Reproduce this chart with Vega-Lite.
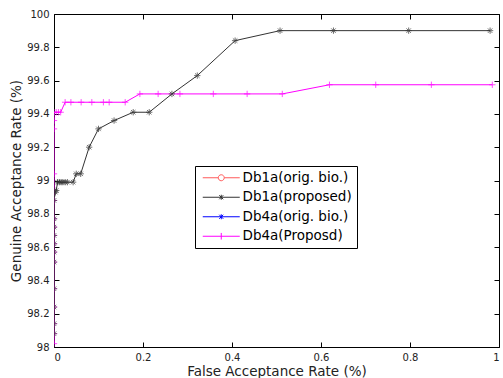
{
  "$schema": "https://vega.github.io/schema/vega-lite/v6.json",
  "autosize": "none",
  "width": 445,
  "height": 333,
  "padding": {"left": 54, "top": 14, "right": 4, "bottom": 31},
  "background": "white",
  "config": {
    "view": {"stroke": null},
    "font": "DejaVu Sans",
    "axis": {
      "domainColor": "black",
      "tickColor": "black",
      "labelColor": "#222",
      "labelFont": "DejaVu Sans",
      "labelFontSize": 10,
      "titleFont": "DejaVu Sans",
      "titleFontSize": 13.5,
      "titleFontWeight": "normal",
      "titleColor": "#222",
      "grid": false,
      "tickSize": -5
    }
  },
  "data": {
    "values": [
      {"s": "Db4a(Proposd)", "k": 1, "far": 0, "gar": 98.02},
      {"s": "Db4a(Proposd)", "k": 2, "far": 0, "gar": 98.08},
      {"s": "Db4a(Proposd)", "k": 3, "far": 0, "gar": 98.14},
      {"s": "Db4a(Proposd)", "k": 4, "far": 0, "gar": 98.24},
      {"s": "Db4a(Proposd)", "k": 5, "far": 0, "gar": 98.35},
      {"s": "Db4a(Proposd)", "k": 6, "far": 0, "gar": 98.51},
      {"s": "Db4a(Proposd)", "k": 7, "far": 0, "gar": 98.57},
      {"s": "Db4a(Proposd)", "k": 8, "far": 0, "gar": 98.62},
      {"s": "Db4a(Proposd)", "k": 9, "far": 0, "gar": 98.67},
      {"s": "Db4a(Proposd)", "k": 10, "far": 0, "gar": 98.72},
      {"s": "Db4a(Proposd)", "k": 11, "far": 0, "gar": 98.77},
      {"s": "Db4a(Proposd)", "k": 12, "far": 0, "gar": 98.88},
      {"s": "Db4a(Proposd)", "k": 13, "far": 0, "gar": 99.04},
      {"s": "Db4a(Proposd)", "k": 14, "far": 0, "gar": 99.31},
      {"s": "Db4a(Proposd)", "k": 15, "far": 0, "gar": 99.36},
      {"s": "Db4a(Proposd)", "k": 16, "far": 0, "gar": 99.41},
      {"s": "Db4a(Proposd)", "k": 17, "far": 0.005, "gar": 99.41},
      {"s": "Db4a(Proposd)", "k": 18, "far": 0.01, "gar": 99.41},
      {"s": "Db4a(Proposd)", "k": 19, "far": 0.015, "gar": 99.41},
      {"s": "Db4a(Proposd)", "k": 20, "far": 0.025, "gar": 99.47},
      {"s": "Db4a(Proposd)", "k": 21, "far": 0.038, "gar": 99.47},
      {"s": "Db4a(Proposd)", "k": 22, "far": 0.061, "gar": 99.47},
      {"s": "Db4a(Proposd)", "k": 23, "far": 0.085, "gar": 99.47},
      {"s": "Db4a(Proposd)", "k": 24, "far": 0.111, "gar": 99.47},
      {"s": "Db4a(Proposd)", "k": 25, "far": 0.124, "gar": 99.47},
      {"s": "Db4a(Proposd)", "k": 26, "far": 0.16, "gar": 99.47},
      {"s": "Db4a(Proposd)", "k": 27, "far": 0.193, "gar": 99.52},
      {"s": "Db4a(Proposd)", "k": 28, "far": 0.234, "gar": 99.52},
      {"s": "Db4a(Proposd)", "k": 29, "far": 0.283, "gar": 99.52},
      {"s": "Db4a(Proposd)", "k": 30, "far": 0.358, "gar": 99.52},
      {"s": "Db4a(Proposd)", "k": 31, "far": 0.434, "gar": 99.52},
      {"s": "Db4a(Proposd)", "k": 32, "far": 0.513, "gar": 99.52},
      {"s": "Db4a(Proposd)", "k": 33, "far": 0.619, "gar": 99.575},
      {"s": "Db4a(Proposd)", "k": 34, "far": 0.723, "gar": 99.575},
      {"s": "Db4a(Proposd)", "k": 35, "far": 0.848, "gar": 99.575},
      {"s": "Db4a(Proposd)", "k": 36, "far": 0.985, "gar": 99.575},
      {"s": "Db1a(proposed)", "k": 1, "far": 0, "gar": 98.08},
      {"s": "Db1a(proposed)", "k": 2, "far": 0, "gar": 98.14},
      {"s": "Db1a(proposed)", "k": 3, "far": 0, "gar": 98.24},
      {"s": "Db1a(proposed)", "k": 4, "far": 0, "gar": 98.35},
      {"s": "Db1a(proposed)", "k": 5, "far": 0, "gar": 98.51},
      {"s": "Db1a(proposed)", "k": 6, "far": 0, "gar": 98.57},
      {"s": "Db1a(proposed)", "k": 7, "far": 0, "gar": 98.62},
      {"s": "Db1a(proposed)", "k": 8, "far": 0, "gar": 98.67},
      {"s": "Db1a(proposed)", "k": 9, "far": 0, "gar": 98.72},
      {"s": "Db1a(proposed)", "k": 10, "far": 0, "gar": 98.77},
      {"s": "Db1a(proposed)", "k": 11, "far": 0, "gar": 98.88},
      {"s": "Db1a(proposed)", "k": 12, "far": 0.003, "gar": 98.93},
      {"s": "Db1a(proposed)", "k": 13, "far": 0.005, "gar": 98.94},
      {"s": "Db1a(proposed)", "k": 14, "far": 0.008, "gar": 98.99},
      {"s": "Db1a(proposed)", "k": 15, "far": 0.012, "gar": 98.99},
      {"s": "Db1a(proposed)", "k": 16, "far": 0.016, "gar": 98.99},
      {"s": "Db1a(proposed)", "k": 17, "far": 0.02, "gar": 98.99},
      {"s": "Db1a(proposed)", "k": 18, "far": 0.025, "gar": 98.99},
      {"s": "Db1a(proposed)", "k": 19, "far": 0.03, "gar": 98.99},
      {"s": "Db1a(proposed)", "k": 20, "far": 0.043, "gar": 98.99},
      {"s": "Db1a(proposed)", "k": 21, "far": 0.05, "gar": 99.04},
      {"s": "Db1a(proposed)", "k": 22, "far": 0.06, "gar": 99.04},
      {"s": "Db1a(proposed)", "k": 23, "far": 0.079, "gar": 99.2},
      {"s": "Db1a(proposed)", "k": 24, "far": 0.1, "gar": 99.31},
      {"s": "Db1a(proposed)", "k": 25, "far": 0.135, "gar": 99.36},
      {"s": "Db1a(proposed)", "k": 26, "far": 0.178, "gar": 99.41},
      {"s": "Db1a(proposed)", "k": 27, "far": 0.214, "gar": 99.41},
      {"s": "Db1a(proposed)", "k": 28, "far": 0.265, "gar": 99.52},
      {"s": "Db1a(proposed)", "k": 29, "far": 0.322, "gar": 99.63},
      {"s": "Db1a(proposed)", "k": 30, "far": 0.407, "gar": 99.84},
      {"s": "Db1a(proposed)", "k": 31, "far": 0.508, "gar": 99.9},
      {"s": "Db1a(proposed)", "k": 32, "far": 0.628, "gar": 99.9},
      {"s": "Db1a(proposed)", "k": 33, "far": 0.797, "gar": 99.9},
      {"s": "Db1a(proposed)", "k": 34, "far": 0.98, "gar": 99.9}
    ]
  },
  "encoding": {
    "x": {"field": "far", "type": "quantitative", "scale": {"domain": [0, 1], "nice": false}},
    "y": {"field": "gar", "type": "quantitative", "scale": {"domain": [98, 100], "nice": false, "zero": false}}
  },
  "layer": [
    {
      "mark": {"type": "line", "strokeWidth": 1, "clip": true},
      "encoding": {
        "x": {"field": "far", "type": "quantitative", "axis": {"orient": "bottom", "title": "False Acceptance Rate (%)", "values": [0, 0.2, 0.4, 0.6, 0.8, 1], "format": "~g", "labelPadding": 10, "titlePadding": 2}},
        "y": {"field": "gar", "type": "quantitative", "axis": {"orient": "left", "title": "Genuine Acceptance Rate (%)", "values": [98, 98.2, 98.4, 98.6, 98.8, 99, 99.2, 99.4, 99.6, 99.8, 100], "format": "~g", "labelPadding": 10, "titlePadding": 3}},
        "order": {"field": "k"},
        "detail": {"field": "s"},
        "color": {
          "field": "s",
          "type": "nominal",
          "scale": {
            "domain": ["Db1a(orig. bio.)", "Db1a(proposed)", "Db4a(orig. bio.)", "Db4a(Proposd)"],
            "range": ["#ff5a5a", "#333333", "#0000ff", "#ff00ff"]
          },
          "legend": {
            "title": null,
            "orient": "none",
            "legendX": 141,
            "legendY": 152,
            "padding": 5,
            "strokeColor": "black",
            "fillColor": "white",
            "symbolSize": 100,
            "labelFont": "DejaVu Sans",
            "labelFontSize": 13.5,
            "labelColor": "black",
            "labelOffset": 29,
            "rowPadding": 4.5,
            "symbolStrokeWidth": 1,
            "encode": {
              "symbols": {
                "update": {
                  "shape": {"signal": "datum.value==='Db1a(orig. bio.)' ? 'M-0.8,0H2.3M3.5,0H6.6M3.5,0A0.6,0.6 0 1,1 2.3,0A0.6,0.6 0 1,1 3.5,0' : datum.value==='Db4a(Proposd)' ? 'M-0.8,0H6.6M2.9,-0.66V0.66' : 'M-0.8,0H6.6M2.5,-0.4L3.3,0.4M2.5,0.4L3.3,-0.4M2.9,-0.5V0.5'"},
                  "fill": {"value": "transparent"},
                  "strokeWidth": {"value": 1}
                }
              }
            }
          }
        }
      }
    },
    {
      "mark": {"type": "point", "filled": false, "strokeWidth": 1, "size": 40, "clip": true},
      "encoding": {
        "x": {"field": "far", "type": "quantitative", "axis": null},
        "y": {"field": "gar", "type": "quantitative", "axis": null},
        "shape": {
          "field": "s",
          "type": "nominal",
          "scale": {"domain": ["Db1a(proposed)", "Db4a(Proposd)"], "range": ["M-1,0H1M0,-1V1M-0.7,-0.7L0.7,0.7M-0.7,0.7L0.7,-0.7", "M-1,0H1M0,-1V1"]},
          "legend": null
        },
        "color": {"field": "s", "type": "nominal", "legend": null}
      }
    },
    {
      "mark": {"type": "point", "opacity": 0},
      "encoding": {
        "x": {"field": "far", "type": "quantitative", "axis": {"orient": "top", "title": null, "labels": false, "values": [0, 0.2, 0.4, 0.6, 0.8, 1]}},
        "y": {"field": "gar", "type": "quantitative", "axis": {"orient": "right", "title": null, "labels": false, "values": [98, 98.2, 98.4, 98.6, 98.8, 99, 99.2, 99.4, 99.6, 99.8, 100]}}
      }
    }
  ],
  "resolve": {"axis": {"x": "independent", "y": "independent"}}
}
